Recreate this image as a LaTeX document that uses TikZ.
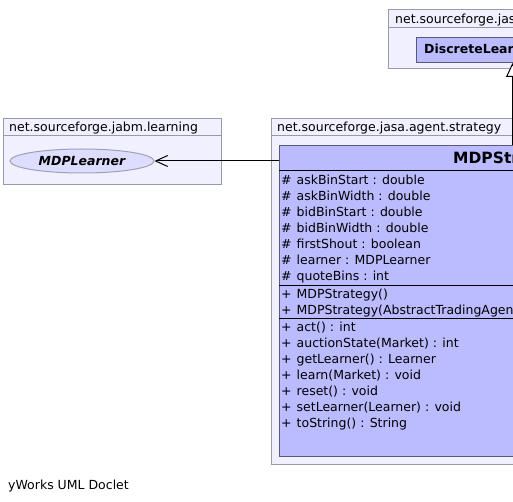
\documentclass[tikz,border=0pt]{standalone}
\usepackage{fontspec}
\setmainfont{DejaVu Sans}
\usetikzlibrary{arrows.meta,shapes.geometric}
\definecolor{pkgfill}{RGB}{240,240,255}
\definecolor{pkgline}{RGB}{153,153,170}
\definecolor{clsfill}{RGB}{187,187,255}
\definecolor{clsline}{RGB}{90,90,120}
\definecolor{ellfill}{RGB}{221,221,255}
\definecolor{ellline}{RGB}{160,160,180}
\tikzset{
  pkg/.style={draw=pkgline, fill=pkgfill, line width=1pt},
  pkgline/.style={draw=pkgline, line width=1pt},
  txt/.style={font=\fontsize{12.5}{14}\selectfont, anchor=base west, inner sep=0pt},
  cls/.style={draw=clsline, fill=clsfill, line width=1pt, anchor=north west, inner sep=0pt},
  sep/.style={draw=black, line width=1pt},
  conn/.style={draw=black, line width=1pt},
}
\begin{document}
\begin{tikzpicture}[x=1pt,y=-1pt]
\useasboundingbox (0,0) rectangle (513,502);
\clip (0,0) rectangle (513,502);
\fill[white] (0,0) rectangle (513,502);

% top package
\draw[pkg] (388,10) rectangle (700,69);
\draw[pkgline] (388,28) -- (700,28);
\node[txt] (hdrA) at (395,23.5) {net.sourceforge.jasa.agent};
\node[cls, minimum width=192pt, minimum height=25pt] (dl) at (416,37) {};
\node[txt, font=\fontsize{12.5}{14}\selectfont\bfseries] (dlname) at (424,54) {DiscreteLearner};

% left package
\draw[pkg] (3,119) rectangle (221,185);
\draw[pkgline] (3,136) -- (221,136);
\node[txt] (hdrB) at (9,132) {net.sourceforge.jabm.learning};
\node[ellipse, draw=ellline, fill=ellfill, line width=1pt, minimum width=144pt, minimum height=24pt, inner sep=0pt,
      font=\fontsize{12.5}{14}\selectfont\bfseries\itshape] (ml) at (82,161) {MDPLearner};

% right package
\draw[pkg] (271,119) rectangle (760,464);
\draw[pkgline] (271,136) -- (760,136);
\node[txt] (hdrC) at (277,132) {net.sourceforge.jasa.agent.strategy};
\node[cls, minimum width=464pt, minimum height=311pt] (mdp) at (279,145) {};
\node[txt, font=\fontsize{15.5}{18}\selectfont\bfseries] (mdpname) at (453,164) {MDPStrategy};
\draw[sep] (279,171) -- (743,171);
\draw[sep] (279,285.5) -- (743,285.5);
\draw[sep] (279,318) -- (743,318);

\foreach \y/\s/\t [count=\i] in {
  180/\#/{askBinStart : double},
  196/\#/{askBinWidth : double},
  212/\#/{bidBinStart : double},
  228/\#/{bidBinWidth : double},
  244/\#/{firstShout : boolean},
  260/\#/{learner : MDPLearner},
  276/\#/{quoteBins : int},
  294/+/{MDPStrategy()},
  310/+/{MDPStrategy(AbstractTradingAgent)},
  327/+/{act() : int},
  343/+/{auctionState(Market) : int},
  359/+/{getLearner() : Learner},
  375/+/{learn(Market) : void},
  391/+/{reset() : void},
  407/+/{setLearner(Learner) : void},
  423/+/{toString() : String}}
{
  \node[txt] (s\i) at (281,\y+4.5) {\s};
  \node[txt] (m\i) at (296.5,\y+4.5) {\t};
}

% connectors
\draw[conn, -{Straight Barb[length=12pt, width=11pt, line width=1pt]}] (ml.east -| mdp.west) -- (ml.east);
\draw[conn, -{Triangle[length=14pt, width=13pt, fill=white, line width=1pt]}] (dl.south |- mdp.north) -- (dl.south);

\node[txt] (foot) at (8,489.5) {yWorks UML Doclet};
\end{tikzpicture}
\end{document}
